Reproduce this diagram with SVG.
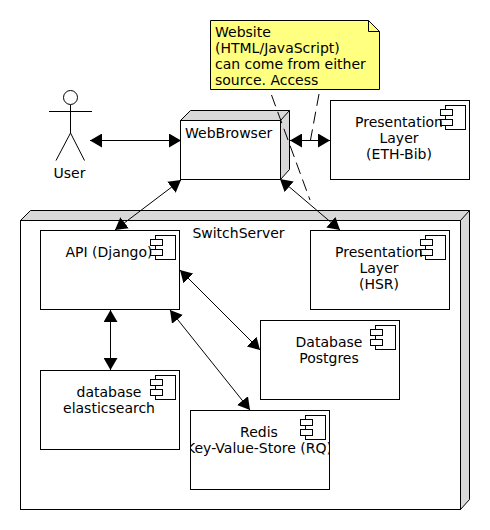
<svg xmlns="http://www.w3.org/2000/svg" width="490" height="530" viewBox="0 0 490 530">
<style>
text{font-family:"DejaVu Sans",sans-serif;font-size:14px;fill:#000}
.m{text-anchor:middle}
.b{fill:#fff;stroke:#000;stroke-width:1}
.s{fill:#d9d9d9;stroke:#000;stroke-width:1}
.l{fill:none;stroke:#000;stroke-width:1}
.a{fill:none;stroke:#000;stroke-width:1;marker-start:url(#h);marker-end:url(#h)}
.d{fill:none;stroke:#000;stroke-width:1;stroke-dasharray:12 6}
</style>
<defs>
<marker id="h" viewBox="0 0 12 14" refX="12" refY="7" markerWidth="12" markerHeight="14" markerUnits="userSpaceOnUse" orient="auto-start-reverse"><path d="M0 0L12 7L0 14Z" fill="#000"/></marker>
<g id="ic"><rect class="b" x="5.5" y="0.5" width="20" height="24"/><rect class="b" x="0.5" y="4.5" width="12" height="6"/><rect class="b" x="0.5" y="14.5" width="12" height="6"/></g>
<clipPath id="c1"><rect x="191" y="410" width="138" height="80"/></clipPath>
</defs>
<g id="server">
<path class="s" d="M20.5 220.5L30.5 210.5H469.5V499.5L460.5 509.5V220.5Z"/>
<rect class="b" x="20.5" y="220.5" width="440" height="289"/>
<path class="l" d="M460.5 220.5L469.5 210.5"/>
<text class="m" x="238.5" y="238">SwitchServer</text>
</g>
<g id="browser">
<path class="s" d="M180.5 120.5L190.5 110.5H289.5V169.5L280.5 179.5V120.5Z"/>
<rect class="b" x="180.5" y="120.5" width="100" height="59"/>
<path class="l" d="M280.5 120.5L289.5 110.5"/>
<text x="185" y="138">WebBrowser</text>
</g>
<g id="user">
<circle class="l" cx="70.5" cy="97.5" r="7"/>
<path class="l" d="M49 111.5H92M70.5 105V133L56 160.5M70.5 133L84.5 160.5"/>
<text class="m" x="69.5" y="178">User</text>
</g>
<g id="eth">
<rect class="b" x="330.5" y="100.5" width="139" height="79"/>
<use href="#ic" x="440" y="105"/>
<text class="m" x="399" y="127">Presentation</text><text class="m" x="399" y="143">Layer</text><text class="m" x="399" y="159">(ETH-Bib)</text>
</g>
<g id="api">
<rect class="b" x="40.5" y="230.5" width="139" height="79"/>
<use href="#ic" x="150" y="235"/>
<text class="m" x="109" y="257">API (Django)</text>
</g>
<g id="hsr">
<rect class="b" x="310.5" y="230.5" width="139" height="79"/>
<use href="#ic" x="420" y="235"/>
<text class="m" x="379" y="257">Presentation</text><text class="m" x="379" y="273">Layer</text><text class="m" x="379" y="289">(HSR)</text>
</g>
<g id="postgres">
<rect class="b" x="260.5" y="320.5" width="139" height="79"/>
<use href="#ic" x="370" y="325"/>
<text class="m" x="329" y="347">Database</text><text class="m" x="329" y="363">Postgres</text>
</g>
<g id="elastic">
<rect class="b" x="40.5" y="370.5" width="139" height="79"/>
<use href="#ic" x="150" y="375"/>
<text class="m" x="109" y="397">database</text><text class="m" x="109" y="413">elasticsearch</text>
</g>
<g id="redis">
<rect class="b" x="190.5" y="410.5" width="139" height="79"/>
<use href="#ic" x="300" y="415"/>
<g clip-path="url(#c1)"><text class="m" x="259" y="437">Redis</text><text class="m" x="259" y="453">Key-Value-Store (RQ)</text></g>
</g>
<g id="note">
<path d="M210.5 20.5H368.5L379.5 31.5V89.5H210.5Z" fill="#ffff80" stroke="#000"/>
<path class="l" d="M368.5 20.5V31.5H379.5"/>
<text x="215" y="37">Website</text><text x="215" y="53">(HTML/JavaScript)</text><text x="215" y="69">can come from either</text><text x="215" y="85">source. Access</text>
</g>
<g id="connectors">
<path class="d" d="M271.5 95L310 200"/>
<path class="d" d="M319 94L310.5 140"/>
<path class="a" d="M90 140.5H181"/>
<path class="a" d="M290 140.5H330"/>
<path class="a" d="M181 180L115 230"/>
<path class="a" d="M280 179L340 230"/>
<path class="a" d="M180 270L260 350"/>
<path class="a" d="M170 310L250 410"/>
<path class="a" d="M110.5 310V370"/>
</g>
</svg>
